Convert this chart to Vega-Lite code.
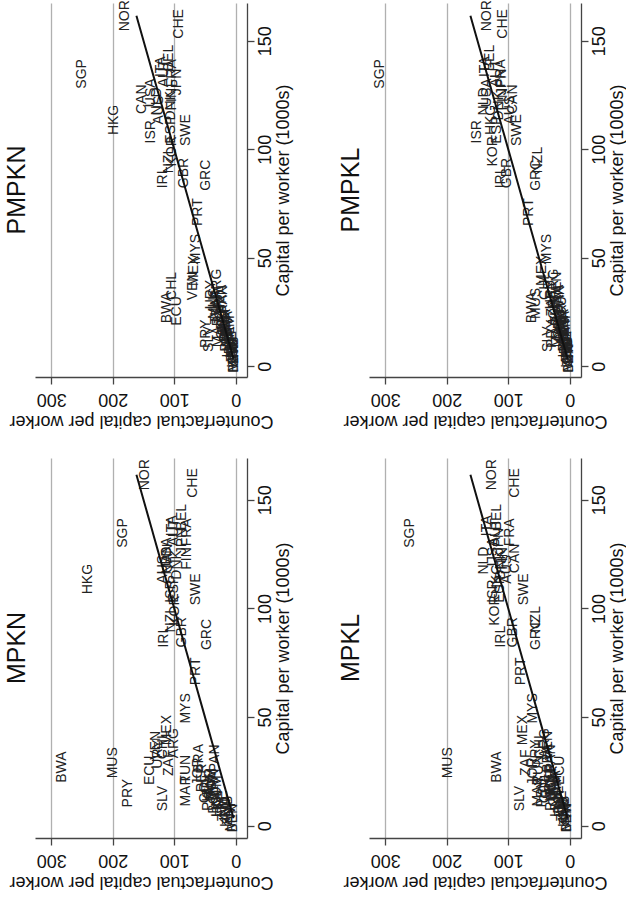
{
  "$schema": "https://vega.github.io/schema/vega-lite/v6.json",
  "background": "white",
  "padding": {"left": 4, "top": 0, "right": 0, "bottom": 0},
  "datasets": {
    "countries": [
      {"code": "NOR", "cap": 161.5, "mpkn": 148, "pmpkn": 180, "mpkl": 127, "pmpkl": 135},
      {"code": "CHE", "cap": 157.7, "mpkn": 70, "pmpkn": 93, "mpkl": 89, "pmpkl": 108},
      {"code": "BEL", "cap": 142, "mpkn": 87, "pmpkn": 108, "mpkl": 119, "pmpkl": 130},
      {"code": "ITA", "cap": 138, "mpkn": 103, "pmpkn": 122, "mpkl": 135, "pmpkl": 137},
      {"code": "FRA", "cap": 135, "mpkn": 80, "pmpkn": 103, "mpkl": 97, "pmpkl": 112},
      {"code": "AUT", "cap": 135, "mpkn": 100, "pmpkn": 117, "mpkl": 120, "pmpkl": 120},
      {"code": "SGP", "cap": 134.7, "mpkn": 183, "pmpkn": 250, "mpkl": 260, "pmpkl": 309},
      {"code": "JPN", "cap": 131, "mpkn": 87, "pmpkn": 95, "mpkl": 115, "pmpkl": 110},
      {"code": "USA", "cap": 126, "mpkn": 111, "pmpkn": 138, "mpkl": 125, "pmpkl": 135},
      {"code": "FIN", "cap": 123, "mpkn": 79, "pmpkn": 103, "mpkl": 108, "pmpkl": 108},
      {"code": "CAN", "cap": 123, "mpkn": 110, "pmpkn": 152, "mpkl": 89, "pmpkl": 92},
      {"code": "NLD", "cap": 122, "mpkn": 112, "pmpkn": 128, "mpkl": 140, "pmpkl": 140},
      {"code": "DNK", "cap": 120, "mpkn": 95, "pmpkn": 106, "mpkl": 112, "pmpkl": 115},
      {"code": "AUS", "cap": 118, "mpkn": 119, "pmpkn": 125, "mpkl": 102, "pmpkl": 97},
      {"code": "HKG", "cap": 113.5, "mpkn": 240, "pmpkn": 198, "mpkl": 118, "pmpkl": 128},
      {"code": "ESP", "cap": 109, "mpkn": 100, "pmpkn": 106, "mpkl": 113, "pmpkl": 119},
      {"code": "SWE", "cap": 108.8, "mpkn": 65, "pmpkn": 81, "mpkl": 75, "pmpkl": 86},
      {"code": "ISR", "cap": 108, "mpkn": 106, "pmpkn": 138, "mpkl": 124, "pmpkl": 151},
      {"code": "KOR", "cap": 99, "mpkn": 98, "pmpkn": 103, "mpkl": 122, "pmpkl": 124},
      {"code": "NZL", "cap": 95, "mpkn": 106, "pmpkn": 108, "mpkl": 54, "pmpkl": 51},
      {"code": "GBR", "cap": 89, "mpkn": 87, "pmpkn": 84, "mpkl": 92, "pmpkl": 102},
      {"code": "GRC", "cap": 88, "mpkn": 46, "pmpkn": 49, "mpkl": 54, "pmpkl": 54},
      {"code": "IRL", "cap": 87, "mpkn": 117, "pmpkn": 119, "mpkl": 111, "pmpkl": 111},
      {"code": "PRT", "cap": 71, "mpkn": 65, "pmpkn": 62, "mpkl": 79, "pmpkl": 67},
      {"code": "MYS", "cap": 54, "mpkn": 81, "pmpkn": 65, "mpkl": 60, "pmpkl": 37},
      {"code": "MEX", "cap": 44, "mpkn": 112, "pmpkn": 68, "mpkl": 76, "pmpkl": 45},
      {"code": "ARG", "cap": 38, "mpkn": 100, "pmpkn": 30, "mpkl": 40, "pmpkl": 25},
      {"code": "VEN", "cap": 37, "mpkn": 130, "pmpkn": 70, "mpkl": 35, "pmpkl": 20},
      {"code": "CHL", "cap": 37, "mpkn": 119, "pmpkn": 103, "mpkl": 49, "pmpkl": 40},
      {"code": "URY", "cap": 33, "mpkn": 127, "pmpkn": 40, "mpkl": 55, "pmpkl": 30},
      {"code": "BRA", "cap": 31, "mpkn": 59, "pmpkn": 22, "mpkl": 35, "pmpkl": 18},
      {"code": "PAN", "cap": 31, "mpkn": 33, "pmpkn": 20, "mpkl": 30, "pmpkl": 15},
      {"code": "ZAF", "cap": 29, "mpkn": 108, "pmpkn": 30, "mpkl": 71, "pmpkl": 28},
      {"code": "MUS", "cap": 29, "mpkn": 200, "pmpkn": 35, "mpkl": 198, "pmpkl": 55},
      {"code": "BWA", "cap": 27, "mpkn": 282, "pmpkn": 111, "mpkl": 119, "pmpkl": 62},
      {"code": "TUN", "cap": 26, "mpkn": 81, "pmpkn": 32, "mpkl": 50, "pmpkl": 22},
      {"code": "ECU", "cap": 25.5, "mpkn": 140, "pmpkn": 95, "mpkl": 16, "pmpkl": 12},
      {"code": "JOR", "cap": 25, "mpkn": 62, "pmpkn": 25, "mpkl": 60, "pmpkl": 25},
      {"code": "PER", "cap": 22, "mpkn": 55, "pmpkn": 20, "mpkl": 32, "pmpkl": 12},
      {"code": "TUR", "cap": 20, "mpkn": 42, "pmpkn": 15, "mpkl": 30, "pmpkl": 10},
      {"code": "DOM", "cap": 19, "mpkn": 38, "pmpkn": 17, "mpkl": 28, "pmpkl": 15},
      {"code": "THA", "cap": 19, "mpkn": 35, "pmpkn": 12, "mpkl": 22, "pmpkl": 8},
      {"code": "CRI", "cap": 18, "mpkn": 45, "pmpkn": 22, "mpkl": 38, "pmpkl": 18},
      {"code": "COL", "cap": 17, "mpkn": 50, "pmpkn": 18, "mpkl": 40, "pmpkl": 14},
      {"code": "JAM", "cap": 17, "mpkn": 40, "pmpkn": 10, "mpkl": 20, "pmpkl": 6},
      {"code": "GTM", "cap": 16, "mpkn": 30, "pmpkn": 14, "mpkl": 25, "pmpkl": 10},
      {"code": "MAR", "cap": 16, "mpkn": 81, "pmpkn": 28, "mpkl": 51, "pmpkl": 20},
      {"code": "PRY", "cap": 15, "mpkn": 176, "pmpkn": 49, "mpkl": 45, "pmpkl": 28},
      {"code": "PHL", "cap": 13, "mpkn": 45, "pmpkn": 15, "mpkl": 30, "pmpkl": 10},
      {"code": "SLV", "cap": 12.5, "mpkn": 119, "pmpkn": 44, "mpkl": 81, "pmpkl": 35},
      {"code": "BOL", "cap": 12, "mpkn": 35, "pmpkn": 10, "mpkl": 18, "pmpkl": 8},
      {"code": "HND", "cap": 11, "mpkn": 30, "pmpkn": 12, "mpkl": 22, "pmpkl": 10},
      {"code": "LKA", "cap": 10, "mpkn": 28, "pmpkn": 8, "mpkl": 15, "pmpkl": 5},
      {"code": "ZWE", "cap": 9, "mpkn": 20, "pmpkn": 6, "mpkl": 12, "pmpkl": 5},
      {"code": "IND", "cap": 8, "mpkn": 18, "pmpkn": 5, "mpkl": 10, "pmpkl": 3},
      {"code": "ZMB", "cap": 7, "mpkn": 12, "pmpkn": 3, "mpkl": 8, "pmpkl": 2},
      {"code": "KEN", "cap": 6, "mpkn": 15, "pmpkn": 5, "mpkl": 10, "pmpkl": 4},
      {"code": "MWI", "cap": 4, "mpkn": 8, "pmpkn": 2, "mpkl": 5, "pmpkl": 1},
      {"code": "BEN", "cap": 3.5, "mpkn": 5, "pmpkn": 2, "mpkl": 4, "pmpkl": 1}
    ]
  },
  "columns": 2,
  "bounds": "flush",
  "spacing": {"row": 81, "column": 122},
  "concat": [
    {
      "title": {"text": "PMPKN"},
      "width": 212, "height": 374,
      "data": {"name": "countries"},
      "layer": [
        {
          "mark": {"type": "text", "angle": 270, "align": "center", "baseline": "middle", "fontSize": 14, "font": "Liberation Sans", "color": "#222"},
          "encoding": {
            "x": {"field": "pmpkn", "type": "quantitative", "scale": {"domain": [-18.4, 326.5], "reverse": true, "nice": false, "zero": false}, "axis": {"title": "Counterfactual capital per worker", "orient": "bottom", "values": [0, 100, 200, 300]}},
            "y": {"field": "cap", "type": "quantitative", "scale": {"domain": [-4.93, 167.35], "nice": false, "zero": false}, "axis": {"title": "Capital per worker (1000s)", "orient": "right", "values": [0, 50, 100, 150]}},
            "text": {"field": "code"}
          }
        },
        {
          "mark": {"type": "line", "color": "#111", "strokeWidth": 2},
          "encoding": {
            "x": {"field": "cap", "type": "quantitative", "axis": {"title": "Counterfactual capital per worker", "orient": "bottom", "values": [0, 100, 200, 300]}},
            "y": {"field": "cap", "type": "quantitative", "axis": {"title": "Capital per worker (1000s)", "orient": "right", "values": [0, 50, 100, 150]}}
          }
        }
      ]
    },
    {
      "title": {"text": "PMPKL"},
      "width": 212, "height": 374,
      "data": {"name": "countries"},
      "layer": [
        {
          "mark": {"type": "text", "angle": 270, "align": "center", "baseline": "middle", "fontSize": 14, "font": "Liberation Sans", "color": "#222"},
          "encoding": {
            "x": {"field": "pmpkl", "type": "quantitative", "scale": {"domain": [-18.4, 326.5], "reverse": true, "nice": false, "zero": false}, "axis": {"title": "Counterfactual capital per worker", "orient": "bottom", "values": [0, 100, 200, 300]}},
            "y": {"field": "cap", "type": "quantitative", "scale": {"domain": [-4.93, 167.35], "nice": false, "zero": false}, "axis": {"title": "Capital per worker (1000s)", "orient": "right", "values": [0, 50, 100, 150]}},
            "text": {"field": "code"}
          }
        },
        {
          "mark": {"type": "line", "color": "#111", "strokeWidth": 2},
          "encoding": {
            "x": {"field": "cap", "type": "quantitative", "axis": {"title": "Counterfactual capital per worker", "orient": "bottom", "values": [0, 100, 200, 300]}},
            "y": {"field": "cap", "type": "quantitative", "axis": {"title": "Capital per worker (1000s)", "orient": "right", "values": [0, 50, 100, 150]}}
          }
        }
      ]
    },
    {
      "title": {"text": "MPKN"},
      "width": 212, "height": 380,
      "data": {"name": "countries"},
      "layer": [
        {
          "mark": {"type": "text", "angle": 270, "align": "center", "baseline": "middle", "fontSize": 14, "font": "Liberation Sans", "color": "#222"},
          "encoding": {
            "x": {"field": "mpkn", "type": "quantitative", "scale": {"domain": [-18.4, 326.5], "reverse": true, "nice": false, "zero": false}, "axis": {"title": "Counterfactual capital per worker", "orient": "bottom", "values": [0, 100, 200, 300]}},
            "y": {"field": "cap", "type": "quantitative", "scale": {"domain": [-5.63, 169.2], "nice": false, "zero": false}, "axis": {"title": "Capital per worker (1000s)", "orient": "right", "values": [0, 50, 100, 150]}},
            "text": {"field": "code"}
          }
        },
        {
          "mark": {"type": "line", "color": "#111", "strokeWidth": 2},
          "encoding": {
            "x": {"field": "cap", "type": "quantitative", "axis": {"title": "Counterfactual capital per worker", "orient": "bottom", "values": [0, 100, 200, 300]}},
            "y": {"field": "cap", "type": "quantitative", "axis": {"title": "Capital per worker (1000s)", "orient": "right", "values": [0, 50, 100, 150]}}
          }
        }
      ]
    },
    {
      "title": {"text": "MPKL"},
      "width": 212, "height": 380,
      "data": {"name": "countries"},
      "layer": [
        {
          "mark": {"type": "text", "angle": 270, "align": "center", "baseline": "middle", "fontSize": 14, "font": "Liberation Sans", "color": "#222"},
          "encoding": {
            "x": {"field": "mpkl", "type": "quantitative", "scale": {"domain": [-18.4, 326.5], "reverse": true, "nice": false, "zero": false}, "axis": {"title": "Counterfactual capital per worker", "orient": "bottom", "values": [0, 100, 200, 300]}},
            "y": {"field": "cap", "type": "quantitative", "scale": {"domain": [-5.63, 169.2], "nice": false, "zero": false}, "axis": {"title": "Capital per worker (1000s)", "orient": "right", "values": [0, 50, 100, 150]}},
            "text": {"field": "code"}
          }
        },
        {
          "mark": {"type": "line", "color": "#111", "strokeWidth": 2},
          "encoding": {
            "x": {"field": "cap", "type": "quantitative", "axis": {"title": "Counterfactual capital per worker", "orient": "bottom", "values": [0, 100, 200, 300]}},
            "y": {"field": "cap", "type": "quantitative", "axis": {"title": "Capital per worker (1000s)", "orient": "right", "values": [0, 50, 100, 150]}}
          }
        }
      ]
    }
  ],
  "config": {
    "view": {"stroke": null},
    "font": "Liberation Sans",
    "title": {"orient": "left", "anchor": "middle", "frame": "group", "fontSize": 25, "fontWeight": "normal", "font": "Liberation Sans", "color": "#111", "baseline": "bottom", "offset": -21},
    "axisX": {
      "grid": true, "gridColor": "#b0b0b0", "gridWidth": 1.3,
      "domainColor": "#444", "domainWidth": 1.3, "tickColor": "#444", "tickSize": 7, "tickWidth": 1.3,
      "labelAngle": 180, "labelAlign": "center", "labelBaseline": "alphabetic", "labelPadding": 9,
      "labelFontSize": 18, "labelFont": "Liberation Sans", "labelColor": "#111", "labelFlush": false, "labelOverlap": false,
      "titleAngle": 180, "titleBaseline": "bottom", "titleFontSize": 18, "titleFont": "Liberation Sans", "titleFontWeight": "normal", "titleColor": "#111", "titlePadding": 4
    },
    "axisY": {
      "grid": false,
      "domainColor": "#444", "domainWidth": 1.3, "tickColor": "#444", "tickSize": 7, "tickWidth": 1.3,
      "labelAngle": 270, "labelAlign": "center", "labelBaseline": "top", "labelPadding": 2,
      "labelFontSize": 18, "labelFont": "Liberation Sans", "labelColor": "#111", "labelFlush": false, "labelOverlap": false,
      "titleAngle": 270, "titleBaseline": "top", "titleFontSize": 18, "titleFont": "Liberation Sans", "titleFontWeight": "normal", "titleColor": "#111", "titlePadding": 0
    }
  }
}
